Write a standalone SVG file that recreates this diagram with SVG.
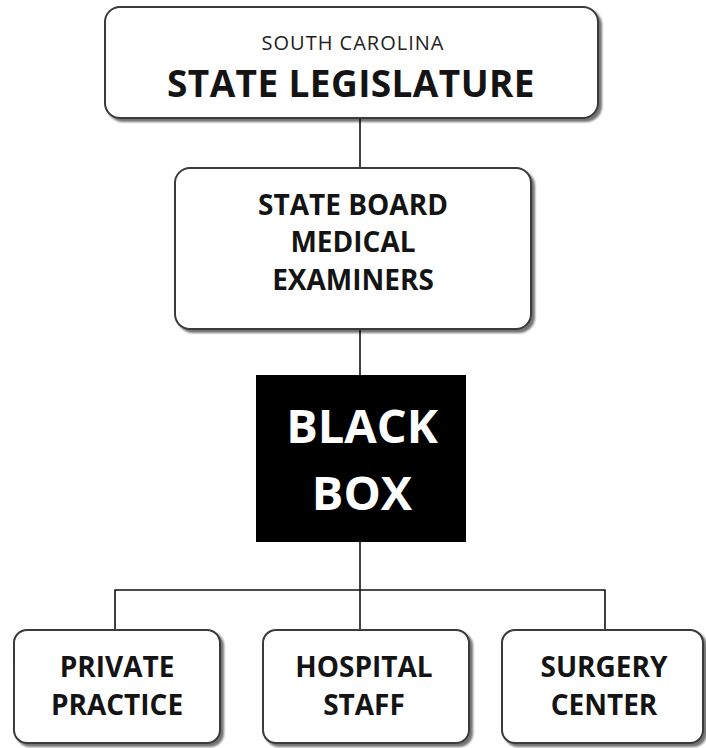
<svg xmlns="http://www.w3.org/2000/svg" width="706" height="748" viewBox="0 0 706 748">
  <defs>
    <filter id="shadow" x="-5%" y="-5%" width="115%" height="120%">
      <feGaussianBlur in="SourceAlpha" stdDeviation="1.2"/>
      <feOffset dx="3" dy="3" result="off"/>
      <feComponentTransfer><feFuncA type="linear" slope="0.55"/></feComponentTransfer>
      <feMerge><feMergeNode/><feMergeNode in="SourceGraphic"/></feMerge>
    </filter>
    <style>
      .box { fill: #ffffff; stroke: #3a3a3a; stroke-width: 2; filter: url(#shadow); }
      .black { fill: #000000; }
      .wire { fill: none; stroke: #111111; stroke-width: 1.6; }
      .lbl { font-family: "Open Sans", Lato, "Liberation Sans", sans-serif; font-weight: bold; fill: #141414; text-anchor: middle; }
      .small { font-family: "Open Sans", Lato, "Liberation Sans", sans-serif; font-weight: normal; fill: #222222; text-anchor: middle; letter-spacing: 1px; }
      .inv { font-family: "Open Sans", Lato, "Liberation Sans", sans-serif; font-weight: bold; fill: #ffffff; text-anchor: middle; }
    </style>
  </defs>

  <!-- connectors -->
  <g id="connectors">
    <line class="wire" x1="360" y1="118" x2="360" y2="168"/>
    <line class="wire" x1="360" y1="330" x2="360" y2="375"/>
    <line class="wire" x1="360" y1="542" x2="360" y2="630"/>
    <polyline class="wire" points="115,630 115,590 605,590 605,630"/>
  </g>

  <g id="legislature">
    <rect class="box" x="105" y="7" width="493" height="111" rx="15"/>
    <text class="small" x="353" y="50" font-size="20">SOUTH CAROLINA</text>
    <text class="lbl" x="351" y="97" font-size="37" letter-spacing="0.4">STATE LEGISLATURE</text>
  </g>

  <g id="board">
    <rect class="box" x="175" y="168" width="356" height="161" rx="15"/>
    <text class="lbl" x="353" y="215" font-size="28">STATE BOARD</text>
    <text class="lbl" x="353" y="252" font-size="28">MEDICAL</text>
    <text class="lbl" x="353" y="290" font-size="28">EXAMINERS</text>
  </g>

  <g id="black-box">
    <rect class="black" x="256" y="375" width="210" height="167"/>
    <text class="inv" x="362" y="443" font-size="47">BLACK</text>
    <text class="inv" x="362" y="510" font-size="47">BOX</text>
  </g>

  <g id="private-practice">
    <rect class="box" x="14" y="630" width="206" height="113" rx="13"/>
    <text class="lbl" x="117" y="677" font-size="28">PRIVATE</text>
    <text class="lbl" x="117" y="715" font-size="28">PRACTICE</text>
  </g>

  <g id="hospital-staff">
    <rect class="box" x="263" y="630" width="206" height="113" rx="13"/>
    <text class="lbl" x="364" y="677" font-size="28">HOSPITAL</text>
    <text class="lbl" x="364" y="715" font-size="28">STAFF</text>
  </g>

  <g id="surgery-center">
    <rect class="box" x="502" y="630" width="201" height="113" rx="13"/>
    <text class="lbl" x="604" y="677" font-size="28">SURGERY</text>
    <text class="lbl" x="604" y="715" font-size="28">CENTER</text>
  </g>
</svg>
